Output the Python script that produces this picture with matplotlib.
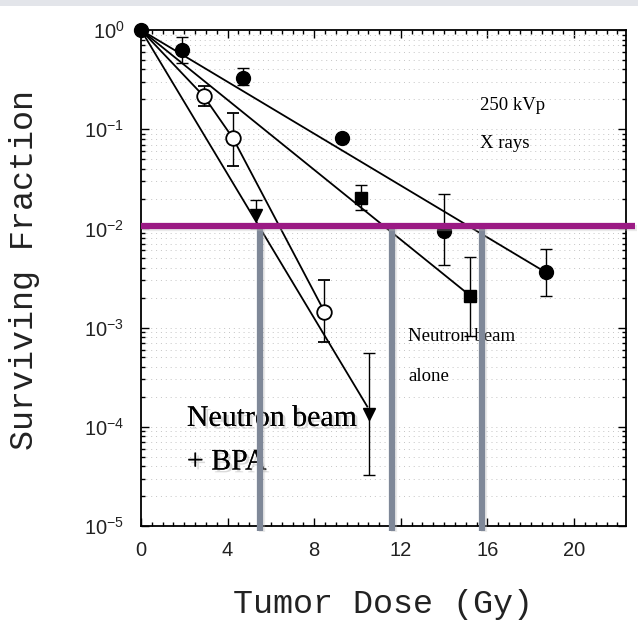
import matplotlib
matplotlib.use("Agg")
import matplotlib.pyplot as plt
import matplotlib.patheffects as pe
from matplotlib.patches import Rectangle
from matplotlib.ticker import MultipleLocator, LogLocator, NullFormatter
import numpy as np

# 250 kVp X rays (filled circles)
xray_dose = [0, 1.9, 4.7, 9.3, 14.0, 18.7]
xray_sf = [1.0, 0.63, 0.33, 0.081, 0.0095, 0.0036]
xray_lo = [1.0, 0.47, 0.28, 0.081, 0.0043, 0.0021]
xray_hi = [1.0, 0.85, 0.41, 0.081, 0.022, 0.0062]

# neutron beam alone (filled squares)
nb_dose = [10.15, 15.2]
nb_sf = [0.0204, 0.0021]
nb_lo = [0.0155, 0.00083]
nb_hi = [0.0275, 0.0052]

# neutron beam + BPA (open circles)
bpa_dose = [2.9, 4.25, 8.47]
bpa_sf = [0.215, 0.081, 0.00145]
bpa_lo = [0.17, 0.043, 0.00071]
bpa_hi = [0.27, 0.145, 0.0030]

# neutron beam + BPA (triangles)
tri_dose = [5.3, 10.55]
tri_sf = [0.0135, 0.000135]
tri_lo = [0.0102, 0.0000324]
tri_hi = [0.0195, 0.00056]

# fitted lines
xray_fit_dose = [0, 18.7]
xray_fit_sf = [1.0, 0.0036]
nb_fit_dose = [0, 15.2]
nb_fit_sf = [1.0, 0.0021]
bpa_fit_dose = [0, 2.9, 4.25, 8.47]
bpa_fit_sf = [1.0, 0.215, 0.081, 0.00145]
tri_fit_dose = [0, 10.45]
tri_fit_sf = [1.0, 0.00016]

# 1% survival level and doses needed to reach it
ref_level = 0.0105
ref_doses = [5.5, 11.6, 15.75]


def yerr(sf, lo, hi):
    sf, lo, hi = np.array(sf), np.array(lo), np.array(hi)
    return [sf - lo, hi - sf]


fig = plt.figure(figsize=(6.38, 6.26), dpi=100)
fig.add_artist(Rectangle((0, 1 - 6 / 626), 1, 6 / 626, transform=fig.transFigure,
                         color='#e3e5ea', lw=0))
ax = fig.add_axes([141 / 638, 100 / 626, 485 / 638, 496 / 626])

ax.set_yscale('log')
ax.set_xlim(0, 22.4)
ax.set_ylim(1e-5, 1)

# faint dotted rows like the scanned original
ax.grid(True, which='both', axis='y', linestyle=(0, (1, 4)), color='#c4c4c4', lw=0.7)

# fit lines
for d, s in [(xray_fit_dose, xray_fit_sf), (nb_fit_dose, nb_fit_sf),
             (bpa_fit_dose, bpa_fit_sf), (tri_fit_dose, tri_fit_sf)]:
    ax.plot(d, s, color='black', lw=1.3, zorder=3)

ekw = dict(ecolor='black', elinewidth=1.0, capsize=4, capthick=1.0, ls='none', zorder=4)
series = [
    (xray_dose, xray_sf, xray_lo, xray_hi, dict(marker='o', ms=10, mfc='black', mec='black')),
    (nb_dose, nb_sf, nb_lo, nb_hi, dict(marker='s', ms=8, mfc='black', mec='black')),
    (bpa_dose, bpa_sf, bpa_lo, bpa_hi, dict(marker='o', ms=10.5, mfc='white', mec='black', mew=1.3)),
    (tri_dose, tri_sf, tri_lo, tri_hi, dict(marker='v', ms=9, mfc='black', mec='black')),
]
for d, s, lo, hi, mkw in series:
    eb = ax.errorbar(d, s, yerr=yerr(s, lo, hi), **mkw, **ekw)
    eb[0].set_clip_on(False)

# annotations
serif = 'Liberation Serif'
shadow = [pe.withSimplePatchShadow(offset=(2, -2), shadow_rgbFace='#888888', alpha=0.3),
          pe.Normal()]
ax.text(15.66, 10 ** -0.76, '250 kVp', family=serif, fontsize=13.5, va='center', zorder=2)
ax.text(15.66, 10 ** -1.14, 'X rays', family=serif, fontsize=13.5, va='center', zorder=2)
ax.text(12.33, 10 ** -3.09, 'Neutron beam', family=serif, fontsize=13.5, va='center', zorder=2)
ax.text(12.33, 10 ** -3.49, 'alone', family=serif, fontsize=13.5, va='center', zorder=2)
ax.text(2.12, 10 ** -3.92, 'Neutron beam', family=serif, fontsize=21.5, va='center',
        zorder=2, path_effects=shadow)
ax.text(2.12, 10 ** -4.36, '+ BPA', family=serif, fontsize=21.5, va='center',
        zorder=2, path_effects=shadow)

# reference lines
gshadow = [pe.SimpleLineShadow(offset=(1.5, -1), shadow_color='#bbbbbb', alpha=0.3), pe.Normal()]
ax.vlines(ref_doses, 9e-6, ref_level, colors='#7f8898', lw=4.5, zorder=6, clip_on=False,
          path_effects=gshadow)
ax.plot([0, 22.8], [ref_level, ref_level], color='#9b1a84', lw=4.5, zorder=7, clip_on=False,
        solid_capstyle='butt', path_effects=gshadow)

# ticks
ax.xaxis.set_major_locator(MultipleLocator(4))
ax.xaxis.set_minor_locator(MultipleLocator(0.5))
ax.yaxis.set_major_locator(LogLocator(base=10, numticks=10))
ax.yaxis.set_minor_locator(LogLocator(base=10, subs=np.arange(2, 10), numticks=10))
ax.yaxis.set_minor_formatter(NullFormatter())
ax.tick_params(which='both', direction='in', top=True, right=True, width=1.0)
ax.tick_params(which='major', length=6)
ax.tick_params(which='minor', length=3)
ax.tick_params(axis='y', pad=12)
ax.tick_params(axis='x', pad=11)
for lab in ax.get_xticklabels() + ax.get_yticklabels():
    lab.set_family('Liberation Sans')
    lab.set_fontsize(14.5)
    lab.set_color('#222222')
for sp in ax.spines.values():
    sp.set_linewidth(1.3)

mono = 'Liberation Mono'
fig.text(383 / 638, 1 - 605 / 626, 'Tumor Dose (Gy)', family=mono, fontsize=24,
         ha='center', va='center', color='#222222')
fig.text(25 / 638, 1 - 270 / 626, 'Surviving Fraction', family=mono, fontsize=24,
         rotation=90, ha='center', va='center', color='#222222')

fig.savefig('out.png', dpi=100)
